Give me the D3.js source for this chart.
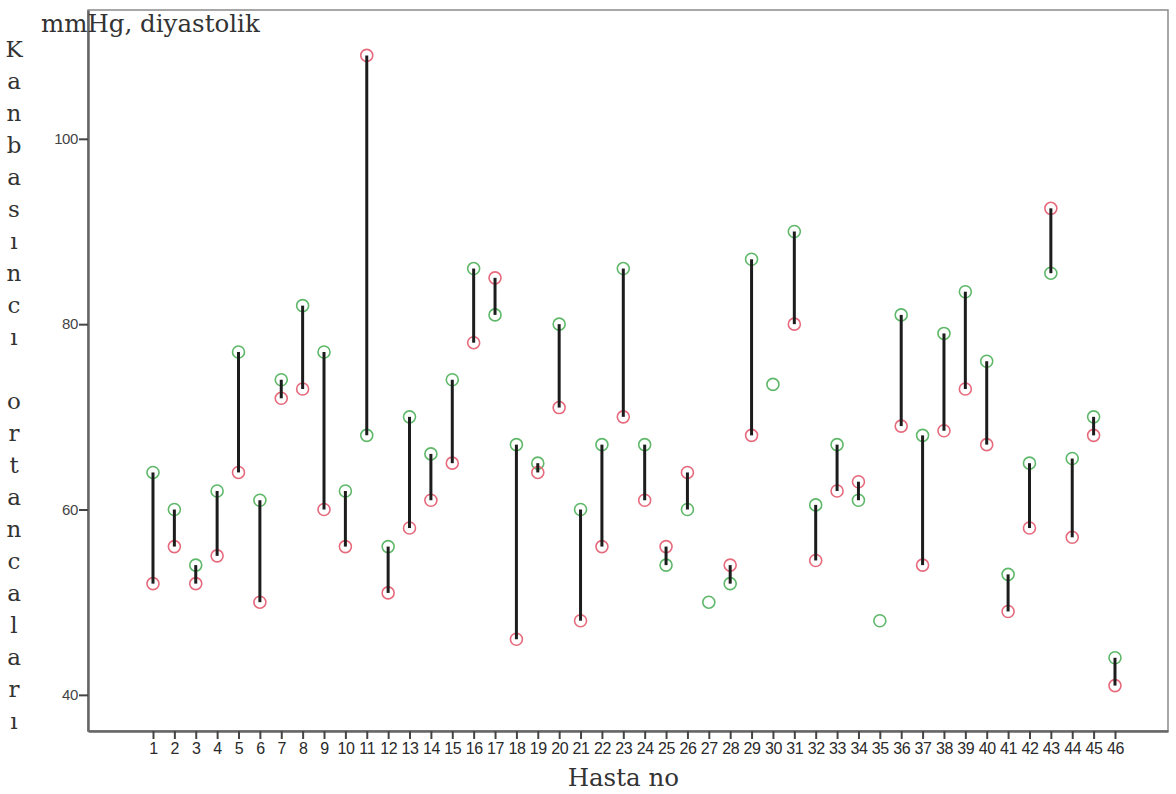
<!DOCTYPE html>
<html>
<head>
<meta charset="utf-8">
<script src="https://cdn.jsdelivr.net/npm/d3@7"></script>
<style>
  body { margin: 0; background: #fff; }
  svg { display: block; }
</style>
</head>
<body>
<svg width="1176" height="794"></svg>
<script>
// hasta numaralari
var patients = d3.range(1, 47);

// yesil daire (first measurement)
var greenVals = [64, 60, 54, 62, 77, 61, 74, 82, 77, 62,
                 68, 56, 70, 66, 74, 86, 81, 67, 65, 80,
                 60, 67, 86, 67, 54, 60, 50, 52, 87, 73.5,
                 90, 60.5, 67, 61, 48, 81, 68, 79, 83.5, 76,
                 53, 65, 85.5, 65.5, 70, 44];

// kirmizi daire (second measurement), null = missing
var redVals = [52, 56, 52, 55, 64, 50, 72, 73, 60, 56,
               109, 51, 58, 61, 65, 78, 85, 46, 64, 71,
               48, 56, 70, 61, 56, 64, null, 54, 68, null,
               80, 54.5, 62, 63, null, 69, 54, 68.5, 73, 67,
               49, 58, 92.5, 57, 68, 41];

var yTicks = [40, 60, 80, 100];
var yLetters = "Kanbasıncı ortancaları".split("");

var svg = d3.select("svg");
var margin = {left: 88, top: 10, right: 8, bottom: 63};
var width = +svg.attr("width") - margin.left - margin.right;
var height = +svg.attr("height") - margin.top - margin.bottom;

var x = d3.scaleLinear().domain([-2.04, 48.48]).range([0, width]);
var y = d3.scaleLinear().domain([36.1, 113.9]).range([height, 0]);

var g = svg.append("g")
    .attr("transform", "translate(" + margin.left + "," + margin.top + ")");

// frame
g.append("rect")
    .attr("width", width)
    .attr("height", height)
    .attr("fill", "none")
    .attr("stroke", "#8a8a8a")
    .attr("stroke-width", 1.5);

// axes
var xAxis = g.append("g")
    .attr("transform", "translate(0," + height + ")")
    .call(d3.axisBottom(x).tickValues(patients).tickSize(8).tickSizeOuter(0)
        .tickPadding(4).tickFormat(d3.format("d")));
var yAxis = g.append("g")
    .call(d3.axisLeft(y).tickValues(yTicks).tickSize(9).tickSizeOuter(0).tickPadding(1));

[xAxis, yAxis].forEach(function(ax) {
    ax.select(".domain").attr("stroke", "#666").attr("stroke-width", 2.5);
    ax.selectAll(".tick line").attr("stroke", "#444").attr("stroke-width", 2);
    ax.selectAll(".tick text")
        .attr("fill", "#2a2a2a")
        .attr("font-family", "'Liberation Sans', Arial, sans-serif")
        .attr("font-size", 16)
        .attr("letter-spacing", "-0.4");
});
yAxis.selectAll(".tick text").attr("font-size", 15).attr("fill", "#444");

var pairs = patients.map(function(p, i) {
    return {p: p, green: greenVals[i], red: redVals[i]};
});

// green circles
g.append("g").selectAll("circle")
    .data(pairs)
    .enter().append("circle")
    .attr("cx", function(d) { return x(d.p); })
    .attr("cy", function(d) { return y(d.green); })
    .attr("r", 6)
    .attr("fill", "none")
    .attr("stroke", "#5fb86a")
    .attr("stroke-width", 1.6);

// red circles
g.append("g").selectAll("circle")
    .data(pairs.filter(function(d) { return d.red != null; }))
    .enter().append("circle")
    .attr("cx", function(d) { return x(d.p); })
    .attr("cy", function(d) { return y(d.red); })
    .attr("r", 6)
    .attr("fill", "none")
    .attr("stroke", "#e66a7c")
    .attr("stroke-width", 1.6);

// connecting lines
g.append("g").selectAll("line")
    .data(pairs.filter(function(d) { return d.red != null; }))
    .enter().append("line")
    .attr("x1", function(d) { return x(d.p); })
    .attr("x2", function(d) { return x(d.p); })
    .attr("y1", function(d) { return y(d.green); })
    .attr("y2", function(d) { return y(d.red); })
    .attr("stroke", "#1c1c1c")
    .attr("stroke-width", 3);

// titles
svg.append("text")
    .attr("x", 41)
    .attr("y", 32)
    .attr("fill", "#333")
    .style("font-family", "'DejaVu Serif', serif")
    .style("font-size", "24.5px")
    .text("mmHg, diyastolik");

svg.append("text")
    .attr("x", margin.left + x(23))
    .attr("y", 786)
    .attr("text-anchor", "middle")
    .attr("fill", "#333")
    .style("font-family", "'DejaVu Serif', serif")
    .style("font-size", "24.5px")
    .text("Hasta no");

svg.append("g").selectAll("text")
    .data(yLetters)
    .enter().append("text")
    .attr("x", 14)
    .attr("y", function(d, i) { return 57 + i * 32; })
    .attr("text-anchor", "middle")
    .attr("fill", "#333")
    .style("font-family", "'DejaVu Serif', serif")
    .style("font-size", "23px")
    .text(function(d) { return d; });
</script>
</body>
</html>
